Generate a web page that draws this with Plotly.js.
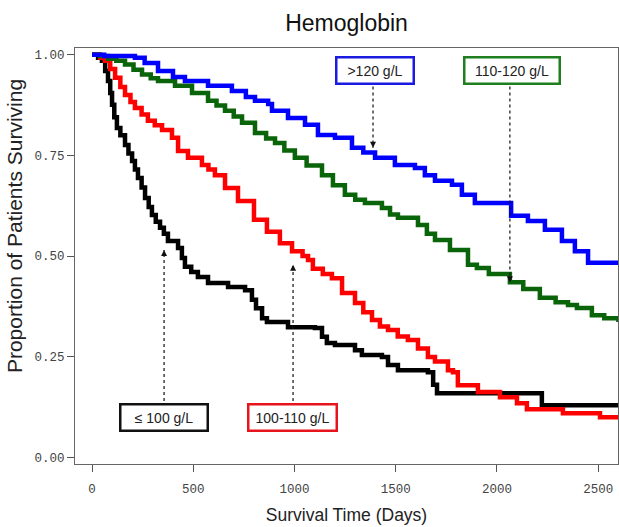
<!DOCTYPE html>
<html>
<head>
<meta charset="utf-8">
<script src="https://cdn.plot.ly/plotly-3.0.1.min.js"></script>
<style>html,body{margin:0;padding:0;background:#fff;}#chart{width:619px;height:527px;}</style>
</head>
<body>
<div id="chart"></div>
<script>
// ---- data (days, proportion surviving) ----
const groupNames = ['≤ 100 g/L', '100-110 g/L', '110-120 g/L', '>120 g/L'];

const daysLow = [0,30,49,65,79,90,99,110,123,140,163,180,198,212,227,245,262,280,296,315,336,355,375,425,444,459,490,523,573,672,756,790,810,840,864,968,1101,1136,1160,1200,1299,1333,1432,1462,1511,1659,1685,1704,2212,2222,2600];
const survLow = [1.0,0.993,0.985,0.96,0.935,0.905,0.876,0.845,0.818,0.8,0.776,0.755,0.736,0.715,0.694,0.67,0.644,0.622,0.602,0.585,0.57,0.555,0.537,0.52,0.495,0.473,0.46,0.448,0.433,0.423,0.415,0.391,0.37,0.345,0.336,0.323,0.321,0.299,0.284,0.279,0.266,0.254,0.249,0.229,0.216,0.211,0.18,0.159,0.159,0.129,0.129];

const daysMid = [0,40,64,90,114,140,163,190,212,245,276,310,346,395,425,474,543,575,607,657,721,800,864,928,988,1040,1067,1091,1140,1185,1235,1299,1340,1383,1422,1462,1510,1560,1610,1659,1694,1758,1783,1807,1906,2015,2099,2148,2310,2326,2495,2509,2600];
const survMid = [1.0,0.993,0.985,0.965,0.943,0.92,0.9,0.883,0.868,0.852,0.836,0.825,0.813,0.794,0.761,0.744,0.726,0.715,0.701,0.669,0.637,0.59,0.56,0.532,0.512,0.5,0.49,0.468,0.455,0.445,0.408,0.383,0.36,0.341,0.325,0.316,0.3,0.291,0.27,0.249,0.238,0.216,0.211,0.179,0.162,0.149,0.134,0.119,0.119,0.109,0.109,0.099,0.099];

const daysHigh = [0,40,79,120,163,205,247,290,326,410,494,573,615,657,700,741,805,860,904,950,1002,1060,1136,1190,1249,1300,1348,1432,1472,1511,1610,1654,1694,1768,1857,1901,1960,2064,2130,2212,2290,2351,2395,2469,2530,2600];
const survHigh = [1.0,0.997,0.99,0.985,0.976,0.963,0.951,0.942,0.935,0.923,0.905,0.886,0.874,0.861,0.847,0.831,0.806,0.792,0.781,0.762,0.744,0.725,0.701,0.676,0.652,0.64,0.632,0.619,0.603,0.595,0.577,0.555,0.54,0.515,0.478,0.47,0.455,0.435,0.418,0.396,0.385,0.378,0.371,0.353,0.345,0.336];

const daysTop = [0,60,212,260,326,400,459,573,691,760,805,870,889,968,1052,1116,1200,1284,1340,1398,1496,1595,1644,1694,1778,1827,1891,2064,2070,2153,2237,2321,2385,2450,2600];
const survTop = [1.0,0.997,0.993,0.98,0.96,0.945,0.935,0.923,0.91,0.895,0.886,0.878,0.861,0.843,0.826,0.801,0.794,0.769,0.757,0.744,0.726,0.719,0.701,0.687,0.677,0.652,0.632,0.632,0.6,0.587,0.565,0.537,0.512,0.483,0.483];

// label boxes: where each box sits and where its arrow points (data units)
const labelDay   = [356, 990, 2074, 1398];
const labelSurv  = [0.0995, 0.0995, 0.961, 0.961];
const arrowDay   = [356, 993, 2064, 1388];
const arrowSurv  = [0.515, 0.478, 0.435, 0.769];

const tickDays = [0, 500, 1000, 1500, 2000, 2500];
const tickSurv = [0, 0.25, 0.5, 0.75, 1.0];

// ---- styling ----
const lineColors = ['#000000', '#ff0000', '#0a640a', '#0000ff'];
const boxColors  = ['#111111', '#e8141c', '#1f7f1f', '#1a1ae0'];
const boxWidths  = [79, 80, 87, 69];

const seriesX = [daysLow, daysMid, daysHigh, daysTop];
const seriesY = [survLow, survMid, survHigh, survTop];

const traces = seriesX.map((xs, i) => ({
  type: 'scatter', mode: 'lines', name: groupNames[i],
  x: xs, y: seriesY[i],
  line: {color: lineColors[i], width: 4.5, shape: 'hv'},
  hoverinfo: 'skip'
}));

const sansFont = 'Liberation Sans, Arial, sans-serif';
const annotations = [];
const shapes = [];
for (let i = 0; i < groupNames.length; i++) {
  const up = labelSurv[i] < arrowSurv[i];
  annotations.push({
    xref: 'x', yref: 'y', x: labelDay[i], y: labelSurv[i],
    text: groupNames[i], showarrow: false,
    font: {family: sansFont, size: 14, color: '#222'},
    bgcolor: '#ffffff', bordercolor: boxColors[i], borderwidth: 2.5, borderpad: 3,
    width: boxWidths[i], height: 18, xanchor: 'center', yanchor: 'middle'
  });
  shapes.push({
    type: 'line', xref: 'x', yref: 'y',
    x0: arrowDay[i], x1: arrowDay[i],
    y0: labelSurv[i] + (up ? 0.04 : -0.04), y1: arrowSurv[i],
    line: {color: '#111', width: 1.2, dash: 'dot'}, layer: 'above'
  });
  annotations.push({
    xref: 'x', yref: 'y', x: arrowDay[i], y: arrowSurv[i],
    text: '', showarrow: true, ax: 0, ay: up ? 7 : -7,
    arrowhead: 2, arrowsize: 1, arrowwidth: 1.2, arrowcolor: '#111'
  });
}
// y-axis title placed as rotated text
annotations.push({
  xref: 'paper', yref: 'paper', x: -0.1123, y: 0.572,
  text: 'Proportion of Patients Surviving', textangle: -90, showarrow: false,
  xanchor: 'center', yanchor: 'middle',
  font: {family: sansFont, size: 21, color: '#222'}
});

const tickFont = {family: 'Liberation Mono, DejaVu Sans Mono, monospace', size: 12.5, color: '#444'};

const layout = {
  width: 619, height: 527,
  margin: {l: 75, r: 1, t: 48, b: 63},
  paper_bgcolor: '#ffffff', plot_bgcolor: '#ffffff',
  showlegend: false,
  title: {
    text: 'Hemoglobin', x: 0.5, xref: 'paper', xanchor: 'center',
    y: 0.956, yref: 'container', yanchor: 'middle',
    font: {family: sansFont, size: 23, color: '#111'}
  },
  xaxis: {
    range: [-84, 2598], tickvals: tickDays, ticktext: tickDays.map(String),
    ticks: 'outside', ticklen: 7, tickcolor: '#555', tickwidth: 1,
    ticklabelstandoff: 6,
    showline: true, linecolor: '#666', linewidth: 1, mirror: true,
    showgrid: false, zeroline: false, tickfont: tickFont,
    title: {text: 'Survival Time (Days)', standoff: 12,
            font: {family: sansFont, size: 17.5, color: '#222'}}
  },
  yaxis: {
    range: [-0.017, 1.017], tickvals: tickSurv, ticktext: tickSurv.map(v => v.toFixed(2)),
    ticks: 'outside', ticklen: 7, tickcolor: '#555', tickwidth: 1,
    showline: true, linecolor: '#666', linewidth: 1, mirror: true,
    showgrid: false, zeroline: false, tickfont: tickFont
  },
  annotations: annotations,
  shapes: shapes
};

Plotly.newPlot('chart', traces, layout, {staticPlot: true, displayModeBar: false});
</script>
</body>
</html>
